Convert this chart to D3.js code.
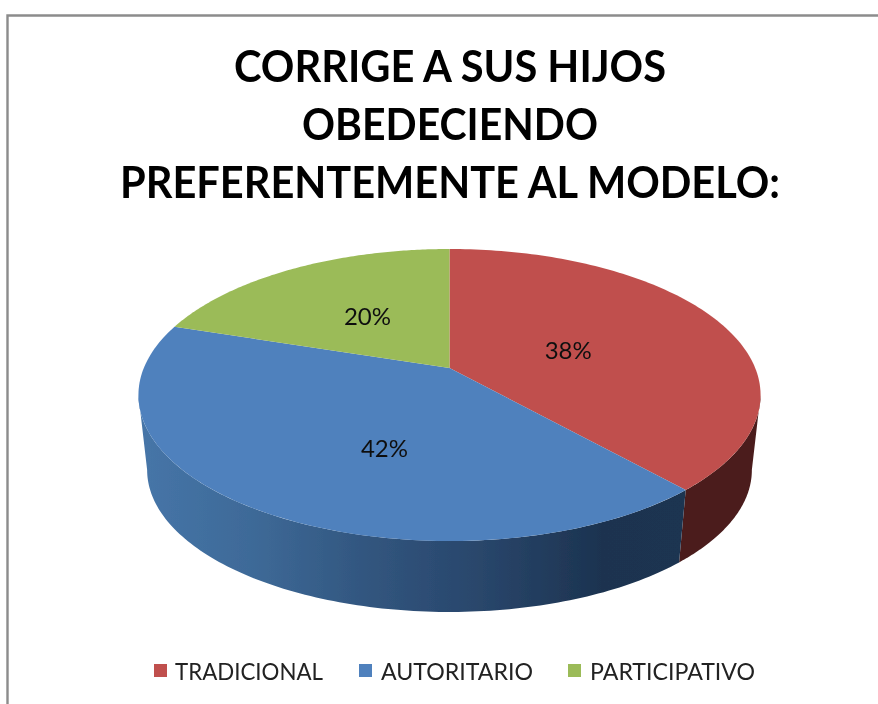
<!DOCTYPE html>
<html><head><meta charset="utf-8">
<script src="https://cdn.jsdelivr.net/npm/d3@7"></script>
<style>html,body{margin:0;padding:0;background:#fff}svg{display:block}</style></head>
<body><svg id="c" width="878" height="704"></svg>
<script>
const categories = ["TRADICIONAL","AUTORITARIO","PARTICIPATIVO"];
const values = [38.4,41.6,20];
const topColors = ["#c0504d","#4f81bd","#9bbb59"];
const titleLines = ["CORRIGE A SUS HIJOS","OBEDECIENDO","PREFERENTEMENTE AL MODELO:"];

const root = d3.select("#c");
const FONT = "Lato, 'Open Sans', sans-serif";
const defs=root.append("defs");
defs.append("filter").attr("id","soft").attr("x",0).attr("y",0).attr("width",1).attr("height",1)
  .append("feGaussianBlur").attr("stdDeviation",0.45);
const svg=root.append("g").attr("filter","url(#soft)");
svg.append("rect").attr("width",878).attr("height",704).attr("fill","#fff");
// frame
svg.append("path").attr("d","M7.5,704V15.5H878").attr("fill","none").attr("stroke","#8c8c8c").attr("stroke-width",2.4);

// title
const titleW = [432,296,660], titleY = [82,140,198];
svg.selectAll("text.t").data(titleLines).join("text").attr("class","t")
  .attr("x",450).attr("y",(d,i)=>titleY[i]).attr("text-anchor","middle")
  .attr("font-family",FONT).attr("font-weight",700).attr("font-size",44).attr("fill","#000")
  .attr("textLength",(d,i)=>titleW[i]).attr("lengthAdjust","spacingAndGlyphs").text(d=>d);

// perspective disc: unit-disc point -> screen
const cx=449.5, apexY=368, R=305.7, S=141, k=0.185;
function proj(a,r,o){ o=o||{s:1,dy:0,sy:1};
  const u=Math.sin(a)*r, v=-Math.cos(a)*r, w=1/(1-k*v);
  return [cx+R*u*w*o.s, apexY+o.dy+S*v*w*o.sy];
}
const floor={s:0.972,dy:75.8,sy:0.972};
const pie=d3.pie().sort(null).value(d=>d);
const arcs=pie(values);
const line=d3.line();
const samples=(a,b)=>d3.range(0,121).map(i=>d3.interpolateNumber(a,b)(i/120));
// the wall is only visible between the two silhouette tangents of the disc
const wallFrom=Math.acos(-k), wallTo=2*Math.PI-wallFrom;

// side gradients
const blueG=defs.append("linearGradient").attr("id","blueSide").attr("gradientUnits","userSpaceOnUse")
  .attr("x1",140).attr("x2",690).attr("y1",0).attr("y2",0);
[[0,"#4675a8"],[0.2,"#3e6a98"],[0.42,"#31557e"],[0.62,"#29466b"],[0.84,"#1c3350"],[1,"#1d3451"]]
  .forEach(s=>blueG.append("stop").attr("offset",s[0]).attr("stop-color",s[1]));
const sideFill=["#4b1f1e","url(#blueSide)","#5d7035"];

// side walls, then top face
svg.append("g").selectAll("path").data(arcs.filter(d=>d.startAngle<wallTo)).join("path")
  .attr("fill",(d,i)=>sideFill[i])
  .attr("d",d=>{const t=samples(Math.max(d.startAngle,wallFrom),Math.min(d.endAngle,wallTo));
    return line(t.map(a=>proj(a,1)).concat(t.slice().reverse().map(a=>proj(a,1,floor))))+"Z";});
svg.append("g").selectAll("path").data(arcs).join("path")
  .attr("fill",(d,i)=>topColors[i])
  .attr("d",d=>line([[cx,apexY]].concat(samples(d.startAngle,d.endAngle).map(a=>proj(a,1))))+"Z");

// value labels
const labelNudge=[[2,4],[10,28],[-11,-6]];
const total=d3.sum(values);
svg.append("g").selectAll("text").data(arcs).join("text")
  .attr("x",(d,i)=>proj((d.startAngle+d.endAngle)/2,0.42)[0]+labelNudge[i][0])
  .attr("y",(d,i)=>proj((d.startAngle+d.endAngle)/2,0.42)[1]+labelNudge[i][1]+8)
  .attr("text-anchor","middle").attr("font-family",FONT).attr("font-size",24).attr("fill","#111")
  .text(d=>Math.round(d.value/total*100)+"%");

// legend
const swatchX=[154,359,568], legendW=[148,152,165];
const lg=svg.append("g").selectAll("g").data(categories).join("g");
lg.append("rect").attr("x",(d,i)=>swatchX[i]).attr("y",664).attr("width",13).attr("height",13).attr("fill",(d,i)=>topColors[i]);
lg.append("text").attr("x",(d,i)=>swatchX[i]+21+(i?1:0)).attr("y",680)
  .attr("font-family",FONT).attr("font-size",24).attr("fill","#222")
  .attr("textLength",(d,i)=>legendW[i]).attr("lengthAdjust","spacingAndGlyphs").text(d=>d);
</script></body></html>
